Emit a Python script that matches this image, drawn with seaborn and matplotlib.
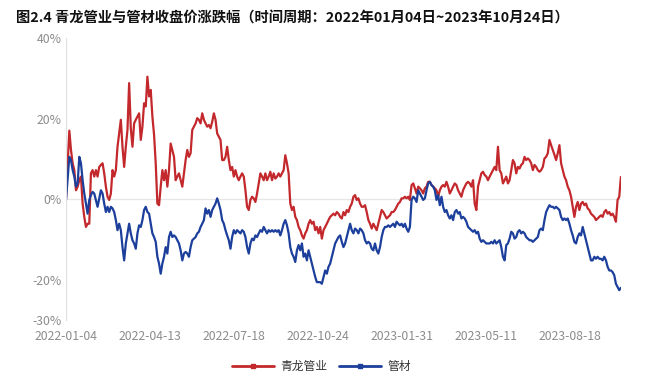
import numpy as np
import pandas as pd
import matplotlib
matplotlib.use("Agg")
import matplotlib.pyplot as plt
from matplotlib.lines import Line2D
import seaborn as sns

TITLE = "图2.4 青龙管业与管材收盘价涨跌幅（时间周期：2022年01月04日~2023年10月24日）"
SERIES = ["青龙管业", "管材"]
COLORS = ["#C3282C", "#1D3F9C"]
N_DAYS = 424
TICK_STEP = 64
TICK_LABELS = ["2022-01-04", "2022-04-13", "2022-07-18", "2022-10-24",
               "2023-01-31", "2023-05-11", "2023-08-18"]
Y_TICKS = [-30, -20, 0, 20, 40]

qinglong = [
    0.0, 8.9, 17.0, 12.2, 8.9, 7.2, 2.2, 3.1, 4.7, 5.6, -1.1, -4.4, -6.9, -6.1, -6.1, 6.4, 7.2, 5.6,
    7.2, 5.6, 8.0, 8.5, 8.9, 6.4, 3.1, 0.6, -0.2, 1.4, 7.2, 5.6, 7.2, 13.0, 16.3, 19.7, 13.0, 8.0,
    13.0, 17.2, 28.8, 17.6, 13.0, 18.8, 19.7, 20.5, 21.3, 14.7, 18.0, 23.8, 23.0, 30.4, 25.5, 27.1,
    20.5, 16.0,
    8.9, -1.1, -1.5, 3.1, 7.2, 4.7, 7.2, 3.1, 7.2, 13.8, 12.2, 10.5, 4.7, 5.6, 6.4, 4.7, 3.1, 6.4,
    9.7, 12.2, 10.5, 11.4, 17.2, 18.0, 18.8, 20.1, 19.7, 18.8, 21.3, 19.7, 18.8, 18.0, 18.4, 17.6,
    19.2, 21.3, 19.7, 16.3, 15.5, 14.7, 9.7, 9.7, 10.5, 13.0, 9.7, 7.2, 8.0, 5.6, 7.2, 5.6, 4.7, 5.6,
    6.4, 5.6, 2.2, -1.9,
    -2.7, -0.2, 0.6, 0.2, -0.7, 1.4, 3.9, 6.4, 5.6, 4.7, 6.4, 4.7, 5.6, 6.8, 4.7, 6.4, 5.1, 5.6,
    6.4, 5.6, 6.4, 7.2, 10.9, 8.9, 6.4, -1.1, -2.7, -1.9, -4.4, -5.2, -6.9, -7.7, -9.0, -9.8, -8.5,
    -7.7, -6.1, -5.2, -6.1, -5.6, -7.7, -6.9, -8.5, -6.9, -9.8, -7.7, -6.9, -6.1, -5.2, -4.4, -4.0,
    -3.6, -4.0, -3.2, -3.6, -4.4,
    -4.8, -3.2, -4.0, -2.7, -3.2, -1.9, -1.1, 0.6, 1.0, -0.2, 0.2, -1.1, -1.9, -1.9, -1.5, -3.2,
    -5.2, -6.1, -7.3, -6.1, -6.9, -7.7, -6.1, -4.4, -2.7, -3.2, -4.0, -4.8, -4.4, -4.0, -3.2, -3.2,
    -2.7, -1.9, -1.1, -0.7, 0.2, 0.2, 0.6, 0.2, 0.6, -0.2, 3.5, 3.9, 2.7, 1.4, 3.1, 2.7, 2.2, 1.4,
    2.7, 3.1, 4.3, 4.3, 3.5, 3.1,
    2.7, 2.2, 0.6, 2.2, 3.1, 3.5, 3.1, 4.3, 3.1, 1.4, 2.2, 3.1, 3.9, 3.5, 2.2, 1.4, 0.6, 2.2, 3.1,
    3.9, 4.3, 3.9, 3.1, 4.7, -1.1, -2.7, 3.1, 4.7, 6.4, 6.8, 6.0, 5.6, 4.7, 5.6, 6.4, 7.2, 8.0, 7.2,
    13.0, 7.2, 6.4, 3.9, 4.7, 5.6, 3.9, 4.7, 7.2, 9.7, 8.9, 6.4, 8.0, 7.6, 8.5, 8.9, 10.5, 9.7,
    10.1, 9.7, 8.9, 7.2, 8.5, 8.0, 7.2, 6.8, 7.2, 8.0, 10.1, 10.5, 11.4, 14.7, 13.4, 12.2, 11.0, 9.7,
    11.4, 13.4, 8.9, 7.2, 5.6, 4.7, 3.1, 2.2, 0.6, -1.9, -4.4, -1.9, -0.7, -2.7, -1.1, -0.7, -1.5,
    -1.1, -2.3, -2.7, -3.6, -4.0, -4.4, -5.2, -4.8, -4.4, -4.0, -4.4, -3.2, -2.7, -3.6, -3.2, -4.0,
    -3.6, -4.4, -5.6, -0.2, 0.6, 5.5,
]

guancai = [
    -0.2, 5.0, 10.5, 9.7, 7.2, 5.6, 3.1, 3.9, 10.5, 8.9, 4.7, 1.4, -1.1, -3.6, -0.2, 1.0, 1.8, 1.4,
    -0.2, -1.9, 0.2, 2.2, 1.4, -1.1, -3.2, -1.9, -3.2, -1.9, -2.3, -3.2, -5.2, -7.7, -6.1, -7.7,
    -11.9, -15.2, -11.0, -8.5, -6.1, -8.5, -10.2, -11.0, -12.3, -8.5, -6.5, -6.9, -5.2, -2.7, -1.9,
    -3.2, -3.6, -6.1, -8.5, -9.4,
    -10.6, -14.3, -16.0, -18.5, -16.0, -14.3, -11.9, -13.5, -9.4, -8.1, -9.4, -9.0, -9.4, -10.2,
    -11.0, -12.7, -15.2, -13.5, -13.1, -13.5, -14.3, -11.9, -10.2, -9.8, -9.4, -8.5, -8.1, -6.9,
    -6.1, -5.2, -2.3, -3.6, -2.7, -4.4, -2.7, -1.9, -1.1, 0.2, -1.1, -2.7, -5.2, -6.1, -7.7, -9.0,
    -10.2, -12.3, -9.4, -7.7, -8.5, -7.7, -8.1, -8.5, -7.7, -8.1, -9.4, -11.9,
    -13.5, -11.0, -9.8, -10.2, -9.0, -9.4, -8.5, -7.7, -8.1, -6.9, -7.7, -8.5, -7.7, -8.1, -7.7,
    -8.1, -7.7, -8.1, -7.7, -9.0, -7.7, -6.1, -5.2, -6.5, -8.5, -11.9, -13.5, -14.3, -15.6, -12.7,
    -11.4, -12.7, -11.0, -14.3, -13.5, -15.2, -12.7, -14.3, -16.0, -17.7, -19.3, -20.6, -20.6,
    -20.6, -21.0, -19.3, -17.7, -18.5, -16.8, -16.0, -14.3, -12.7, -11.0, -10.2, -9.4, -9.0,
    -10.6, -11.9, -11.0, -9.4, -7.7, -6.1, -7.7, -8.5, -7.3, -7.7, -8.5, -7.3, -7.7, -8.5, -10.2,
    -11.0, -10.6, -11.0, -12.3, -12.7, -11.0, -12.7, -13.5, -11.9, -9.4, -7.7, -6.9, -6.9, -6.5,
    -6.9, -6.5, -6.1, -6.9, -5.6, -6.1, -6.5, -6.1, -6.9, -6.1, -7.3, -8.1, -6.9, -0.2, 0.6, 0.2,
    -0.7, 2.2, 1.4, 0.6, -0.2, 0.2, 2.2, 3.9, 4.3, 3.5, 3.1,
    2.2, -0.2, 1.0, -1.5, 0.6, -1.9, -3.2, -2.7, -4.0, -4.8, -4.0, -5.2, -3.2, -2.7, -3.6, -3.2,
    -4.8, -4.4, -4.8, -5.6, -6.9, -7.3, -7.7, -8.1, -7.7, -8.5, -8.1, -9.8, -10.6, -10.2, -10.6,
    -11.0, -11.0, -11.0, -10.6, -11.0, -10.2, -11.0, -10.6, -10.2, -11.9, -14.3, -15.2, -11.4,
    -11.0, -9.8, -8.1, -8.5, -9.8, -9.4, -8.1, -7.7, -8.5, -8.1, -8.5, -9.4,
    -9.8, -10.2, -10.2, -10.6, -10.2, -9.8, -9.4, -7.7, -7.3, -7.7, -5.2, -3.2, -2.3, -1.5, -1.9,
    -1.9, -2.3, -1.9, -2.3, -2.7, -4.4, -5.2, -4.8, -5.2, -4.8, -6.1, -7.7, -9.0, -10.6, -11.0,
    -9.4, -8.5, -9.0, -6.9, -8.5, -10.2, -11.9, -13.5, -15.2, -15.2, -14.3, -14.8, -14.3, -14.8,
    -14.8, -15.2, -14.3, -15.2, -16.8, -17.7, -17.7, -18.1, -18.9, -21.0, -21.8, -22.6, -22.0,
]

sns.set_theme(style="white")
plt.rcParams["font.family"] = ["Noto Sans CJK SC", "DejaVu Sans"]

frames = []
for name, vals in zip(SERIES, [qinglong, guancai]):
    pos = np.linspace(0, N_DAYS - 1, len(vals))
    frames.append(pd.DataFrame({"day": pos, "pct": vals, "series": name}))
df = pd.concat(frames, ignore_index=True)

fig = plt.figure(figsize=(6.49, 3.78), dpi=100)
ax = fig.add_axes([0.1017, 0.1534, 0.855, 0.7461])

ax.axhline(0, color="#e6e6e6", lw=0.9, zorder=0)
sns.lineplot(data=df, x="day", y="pct", hue="series", hue_order=SERIES,
             palette=dict(zip(SERIES, COLORS)), linewidth=1.6, legend=False,
             ax=ax, estimator=None, sort=False)

ax.set_xlim(0, N_DAYS - 1)
ax.set_ylim(-30, 40)
ax.set_yticks(Y_TICKS)
ax.set_yticklabels([f"{v}%" for v in Y_TICKS])
ax.set_xticks([i * TICK_STEP for i in range(len(TICK_LABELS))])
ax.set_xticklabels(TICK_LABELS)
ax.tick_params(axis="both", length=0, colors="#8c8c8c", labelsize=8.8)
ax.tick_params(axis="x", pad=7)
ax.tick_params(axis="y", pad=3)
ax.set_xlabel("")
ax.set_ylabel("")
for side in ["top", "right", "bottom"]:
    ax.spines[side].set_visible(False)
ax.spines["left"].set_color("#e0e0e0")
ax.spines["left"].set_linewidth(0.8)
ax.grid(False)

fig.text(0.024, 0.952, TITLE, fontsize=10.3, fontweight="bold", ha="left", va="center",
         color="#111111")

handles = [Line2D([0], [0], color=c, lw=2, marker="s", markersize=3.2) for c in COLORS]
fig.legend(handles, SERIES, loc="center", bbox_to_anchor=(0.495, 0.03), ncol=2,
           frameon=False, fontsize=8.5, handlelength=3.6, columnspacing=1.0,
           handletextpad=0.5, labelcolor="#333333")

fig.savefig("out.png", dpi=100)
